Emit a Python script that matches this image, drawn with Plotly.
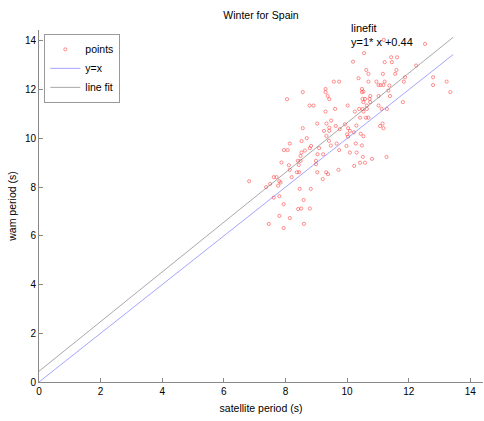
import plotly.graph_objects as go

# satellite period (s) vs wam period (s), winter, Spain
sat_period = [
    10.19, 9.57, 9.74, 8.56, 9.30, 9.30, 11.31, 11.98, 13.44, 11.19,
    12.53, 10.55, 11.43, 11.62, 11.22, 11.45, 10.62, 11.60, 12.24, 10.69,
    11.16, 11.56, 10.37, 11.88, 12.79, 10.69, 10.95, 11.22, 11.84, 13.23,
    12.79, 11.02, 11.09, 11.18, 11.37, 10.48, 10.53, 10.48, 11.34, 13.35,
    8.05, 9.37, 9.42, 8.78, 8.91, 9.30, 10.02, 9.61, 10.25, 9.03,
    9.48, 9.33, 8.56, 9.42, 9.42, 9.63, 9.93, 9.76, 9.25, 10.03,
    10.09, 10.30, 10.22, 9.33, 10.00, 10.03, 8.69, 8.14, 8.52, 9.41,
    9.47, 9.66, 8.83, 8.79, 9.09, 9.98, 10.28, 7.95, 8.07, 8.52,
    8.49, 8.63, 9.74, 10.09, 9.04, 9.22, 8.40, 8.49, 7.87, 8.11,
    8.43, 8.99, 8.99, 10.23, 9.72, 10.75, 11.02, 11.39, 10.50, 10.58,
    10.73, 10.53, 10.75, 10.64, 11.81, 11.02, 10.39, 10.50, 10.64, 11.12,
    11.29, 10.53, 10.42, 10.61, 10.69, 11.15, 11.07, 11.18, 10.44, 10.53,
    10.48, 10.31, 10.51, 10.81, 11.28, 10.42, 10.58, 8.14, 8.37, 8.44,
    7.62, 7.71, 9.03, 9.32, 9.38, 8.20, 9.21, 6.82, 7.80, 7.84,
    7.50, 7.76, 7.37, 8.46, 8.82, 7.62, 7.80, 8.59, 7.94, 8.41,
    8.51, 8.79, 7.80, 8.14, 7.46, 8.60, 7.94,
]
wam_period = [
    13.15, 12.33, 12.33, 11.90, 12.03, 11.90, 14.48, 14.48, 14.48, 14.04,
    13.88, 13.50, 13.33, 13.33, 13.13, 13.13, 12.81, 12.81, 12.99, 12.65,
    12.65, 12.65, 12.47, 12.51, 12.51, 12.33, 12.33, 12.33, 12.33, 12.33,
    12.19, 12.19, 12.19, 12.19, 12.17, 12.03, 11.92, 11.90, 11.96, 11.90,
    11.61, 11.74, 11.61, 11.35, 11.35, 11.10, 11.35, 11.21, 11.10, 10.61,
    10.73, 10.61, 10.42, 10.44, 10.31, 10.51, 10.58, 10.38, 10.31, 10.42,
    10.31, 10.53, 10.25, 10.10, 10.17, 10.07, 10.01, 9.79, 9.89, 9.90,
    9.71, 9.79, 9.69, 9.60, 9.60, 9.69, 9.79, 9.52, 9.52, 9.42,
    9.28, 9.50, 9.52, 9.42, 9.35, 9.35, 9.08, 9.08, 9.01, 8.90,
    8.91, 9.08, 8.94, 8.87, 8.71, 11.74, 11.74, 11.74, 11.62, 11.62,
    11.62, 11.49, 11.49, 11.35, 11.49, 11.35, 11.21, 11.21, 11.21, 11.21,
    11.21, 11.10, 10.85, 10.85, 10.85, 10.61, 10.51, 10.42, 10.19, 10.09,
    9.71, 9.42, 9.24, 9.16, 9.24, 9.00, 9.00, 8.71, 8.61, 8.61,
    8.41, 8.41, 8.61, 8.61, 8.53, 8.41, 8.33, 8.24, 8.24, 8.19,
    8.13, 8.06, 8.00, 7.93, 7.93, 7.57, 7.63, 7.47, 7.30, 7.10,
    7.12, 7.12, 6.82, 6.73, 6.49, 6.49, 6.32,
]

fit_slope = 1.02
fit_intercept = 0.44
fit_label = "linefit<br>y=1* x +0.44"
title_text = "Winter for Spain"
x_title = "satellite period (s)"
y_title = "wam period (s)"
x_ticks = [0, 2, 4, 6, 8, 10, 12, 14]
y_ticks = [0, 2, 4, 6, 8, 10, 12, 14]

x_max = max(sat_period)
line_x = [0, x_max]
fit_y = [fit_intercept + fit_slope * v for v in line_x]

font_family = "Liberation Sans, Arial, sans-serif"

fig = go.Figure()
fig.add_trace(go.Scatter(
    x=sat_period, y=wam_period, mode="markers", name="points",
    marker=dict(symbol="circle-open", size=3.2, color="rgba(255,40,40,0.5)",
                line=dict(width=1, color="rgba(255,40,40,0.5)")),
    cliponaxis=False,
))
fig.add_trace(go.Scatter(
    x=line_x, y=line_x, mode="lines", name="y=x",
    line=dict(color="rgba(90,90,255,0.55)", width=1),
))
fig.add_trace(go.Scatter(
    x=line_x, y=fit_y, mode="lines", name="line fit",
    line=dict(color="rgba(110,110,110,0.6)", width=1),
))

fig.add_annotation(
    x=10.05, y=14.25, xref="x", yref="y", text=fit_label, showarrow=False,
    xanchor="left", yanchor="middle", align="left",
    font=dict(family=font_family, size=11, color="black"),
)

fig.update_layout(
    width=484, height=421,
    margin=dict(l=39, r=1, t=30, b=39),
    paper_bgcolor="white", plot_bgcolor="white",
    font=dict(family=font_family, size=10, color="black"),
    title=dict(text=title_text, x=(261 / 484), xanchor="center",
               y=1 - 15 / 421, yanchor="middle",
               font=dict(family=font_family, size=10.5, color="black")),
    showlegend=True,
    legend=dict(x=0.012, y=0.989, xanchor="left", yanchor="top",
                bgcolor="white", bordercolor="#999999", borderwidth=1,
                font=dict(family=font_family, size=10.5, color="black"),
                tracegroupgap=0, itemwidth=30),
)
fig.update_xaxes(
    range=[0, 14.41], tickvals=x_ticks, ticks="inside", ticklen=4,
    tickcolor="#888888", showline=True, linecolor="#888888", linewidth=1,
    showgrid=False, zeroline=False, mirror=False,
    title=dict(text=x_title, font=dict(size=10.5), standoff=8),
    tickfont=dict(size=10),
)
fig.update_yaxes(
    range=[0, 14.45], tickvals=y_ticks, ticks="inside", ticklen=4,
    tickcolor="#888888", showline=True, linecolor="#888888", linewidth=1,
    showgrid=False, zeroline=False, mirror=False,
    title=dict(text=y_title, font=dict(size=10.5), standoff=6),
    tickfont=dict(size=10),
)

fig.write_html("out.html")
